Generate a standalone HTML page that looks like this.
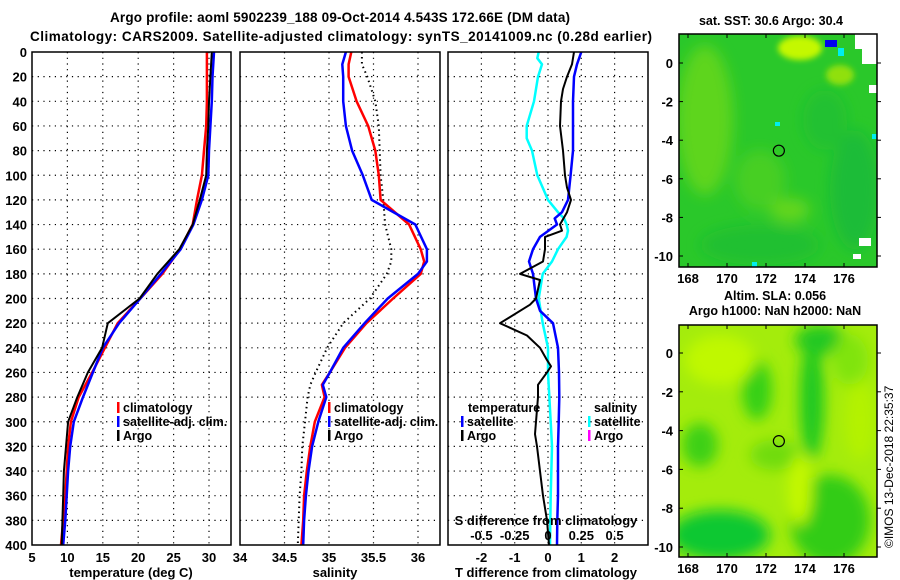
<!DOCTYPE html>
<html><head><meta charset="utf-8">
<style>
html,body{margin:0;padding:0;background:#fff;}
svg{display:block;font-family:"Liberation Sans",sans-serif;font-weight:bold;}
</style></head>
<body>
<svg id="fig" width="900" height="580" viewBox="0 0 900 580" xmlns="http://www.w3.org/2000/svg">
<defs>
<filter id="blur1" x="-20%" y="-20%" width="140%" height="140%"><feGaussianBlur stdDeviation="7"/></filter>
<filter id="blur2" x="-20%" y="-20%" width="140%" height="140%"><feGaussianBlur stdDeviation="3"/></filter>
<clipPath id="clipM1"><rect x="679" y="34" width="198" height="233"/></clipPath>
<clipPath id="clipM2"><rect x="679" y="325" width="198" height="232"/></clipPath>
</defs>
<text x="340" y="22" font-size="13.5" text-anchor="middle" textLength="460">Argo profile: aoml 5902239_188 09-Oct-2014 4.543S 172.66E (DM data)</text>
<text x="341" y="41" font-size="13.5" text-anchor="middle" textLength="622">Climatology: CARS2009. Satellite-adjusted climatology: synTS_20141009.nc (0.28d earlier)</text>
<g id="panels"></g>
<g id="maps"></g>
<text transform="translate(893,548) rotate(-90)" font-size="12" font-weight="normal">©IMOS 13-Dec-2018 22:35:37</text>
</svg>
<script>
// depth levels (dbar)
const depthT = [0,20,40,60,80,100,120,140,160,180,200,220,240,260,280,300,320,340,360,380,400];
const tempClim = [29.7,29.7,29.7,29.6,29.3,29.0,28.3,27.7,25.9,23.4,20.3,17.1,15.3,13.5,11.6,10.5,10.1,9.9,9.7,9.4,9.1];
const tempSat  = [30.7,30.5,30.4,30.2,30.0,29.9,29.0,27.8,26.0,23.2,20.3,17.3,15.0,13.6,12.2,10.9,10.4,10.1,9.9,9.7,9.4];
const tempArgo = [30.4,30.2,30.0,29.9,29.7,29.6,28.7,27.7,25.8,22.7,20.2,15.7,14.9,12.9,11.4,10.1,9.8,9.5,9.4,9.3,9.2];

const depthS = [0,10,20,40,60,80,100,120,140,160,170,180,200,220,240,260,270,280,300,320,340,360,380,400];
const salClim = [35.25,35.22,35.22,35.31,35.44,35.52,35.56,35.58,35.90,36.03,36.07,36.03,35.72,35.42,35.18,35.01,34.92,34.95,34.84,34.79,34.75,34.72,34.71,34.69];
const salSat  = [35.19,35.15,35.16,35.16,35.19,35.26,35.38,35.48,35.97,36.10,36.10,36.00,35.66,35.40,35.16,35.01,34.93,34.97,34.88,34.81,34.77,34.74,34.72,34.71];
const salArgo = [35.37,35.37,35.43,35.52,35.56,35.57,35.58,35.61,35.63,35.70,35.70,35.65,35.46,35.16,34.98,34.85,34.79,34.76,34.73,34.70,34.69,34.67,34.66,34.65];

const depthD1 = [0,10,20,40,60,80,100,120,130,135,140,150,160,170,180,200,210,220,240,260,280,300,320,340,360,380,400];
const dTsat   = [1.0,0.87,0.78,0.75,0.75,0.75,0.68,0.6,0.42,0.2,0.27,-0.24,-0.45,-0.57,-0.45,-0.36,-0.24,0.15,0.3,0.33,0.34,0.32,0.30,0.30,0.30,0.28,0.27];
const depthD2 = [0,10,20,30,40,60,80,100,110,120,130,140,145,150,160,170,180,185,200,205,220,230,240,250,255,260,270,280,290,310,320,340,360,380,400];
const dTargo  = [0.78,0.72,0.57,0.45,0.39,0.36,0.45,0.51,0.57,0.69,0.57,0.36,0.42,-0.09,-0.09,-0.15,-0.84,-0.24,-0.36,-0.54,-1.44,-0.63,-0.24,-0.03,0.09,-0.03,-0.3,-0.3,-0.33,-0.39,-0.33,-0.24,-0.15,-0.03,0.03];
const depthD3 = [0,5,10,20,40,60,70,80,100,110,120,130,135,140,145,150,160,170,180,200,220,240,260,300,320,360,400];
const dSsat   = [-0.07,-0.08,-0.045,-0.075,-0.105,-0.16,-0.16,-0.12,-0.08,-0.04,0,0.075,0.12,0.14,0.15,0.14,0.075,0.03,-0.04,-0.07,-0.04,0,0,0.02,0.03,0.02,0.015];

const depthTicks = [0,20,40,60,80,100,120,140,160,180,200,220,240,260,280,300,320,340,360,380,400];
const tTicks = [5,10,15,20,25,30];
const sTicks = [34,34.5,35,35.5,36];
const dTTicks = [-2,-1,0,1,2];
const dSTicks = [-0.5,-0.25,0,0.25,0.5];
const lonTicks = [168,170,172,174,176];
const latTicks = [0,-2,-4,-6,-8,-10];

const NS = 'http://www.w3.org/2000/svg';
const yTop = 52, yBot = 545;
const yD = d => yTop + (d/400)*(yBot-yTop);
const xT = v => 32 + (v-5)*7.08;
const xS = v => 240 + (v-34)*89;
const xDT = v => 548 + v*33.3;
const xDS = v => 548 + v*133.2;
const mx = lon => 688 + (lon-168)*19.5;
const my1 = lat => 63 - lat*19.3;
const my2 = lat => 353 - lat*19.4;

function mk(tag, attrs, parent){
  const e = document.createElementNS(NS, tag);
  for (const k in attrs) e.setAttribute(k, attrs[k]);
  parent.appendChild(e);
  return e;
}
const P = document.getElementById('panels');

function panel(x0, x1, name){
  const g = mk('g', {}, P);
  
  
  return g;
}
function gridH(g, x0, x1){
  depthTicks.forEach(d => {
    if (d===0||d===400) return;
    const l = mk('line', {x1:x0, x2:x1, y1:yD(d), y2:yD(d), stroke:'#000', 'stroke-width':1.2, 'stroke-dasharray':'1.2,4.5'}, g);
    
    
  });
}
function gridV(g, xs){
  xs.forEach(x => {
    const l = mk('line', {x1:x, x2:x, y1:yTop, y2:yBot, stroke:'#000', 'stroke-width':1.2, 'stroke-dasharray':'1.2,4.5'}, g);
    
    
  });
}
function frame(g, x0, x1){
  const r = mk('rect', {x:x0, y:yTop, width:x1-x0, height:yBot-yTop, fill:'none', stroke:'#000', 'stroke-width':1.5}, g);
  
  
}
function line(g, xs, ds, fx, color, w, name, dash){
  const pts = xs.map((v,i) => fx(v).toFixed(1)+','+yD(ds[i]).toFixed(1)).join(' ');
  const a = {points:pts, fill:'none', stroke:color, 'stroke-width':w, 'stroke-linejoin':'round'};
  if (dash) a['stroke-dasharray'] = dash;
  const p = mk('polyline', a, g);
  
  
}
function txt(g, x, y, s, size, anchor, name, fill){
  const t = mk('text', {x:x, y:y, 'font-size':size, 'text-anchor':anchor||'start', fill:fill||'#000'}, g);
  t.textContent = s;
  
  
  return t;
}
function legend(g, x, y, color, label){
  const r = mk('rect', {x:x, y:y-10, width:2.5, height:11, fill:color}, g);
  
  
  txt(g, x+6, y, label, 12.5, 'start', 'legend-entry');
}

// Panel 1: temperature
const g1 = panel(32, 231, 'temperature-panel');
gridH(g1, 32, 231); gridV(g1, tTicks.slice(1).map(xT));
line(g1, tempClim, depthT, xT, '#ff0000', 2.5, 'temperature-climatology-line');
line(g1, tempSat, depthT, xT, '#0000ff', 2.5, 'temperature-satellite-line');
line(g1, tempArgo, depthT, xT, '#000', 2, 'temperature-argo-line');
frame(g1, 32, 231);
depthTicks.forEach(d => txt(g1, 27, yD(d)+5, String(d), 13, 'end', 'depth-tick-label'));
tTicks.forEach(v => txt(g1, xT(v), 562, String(v), 13, 'middle', 'temperature-tick-label'));
txt(g1, 131, 577, 'temperature (deg C)', 13, 'middle', 'temperature-axis-title');
legend(g1, 117, 412, '#ff0000', 'climatology');
legend(g1, 117, 426, '#0000ff', 'satellite-adj. clim.');
legend(g1, 117, 440, '#000', 'Argo');

// Panel 2: salinity
const g2 = panel(240, 440, 'salinity-panel');
gridH(g2, 240, 440); gridV(g2, sTicks.slice(1).map(xS));
line(g2, salArgo, depthS, xS, '#000', 2, 'salinity-argo-line', '1.5,3.5');
line(g2, salClim, depthS, xS, '#ff0000', 2.5, 'salinity-climatology-line');
line(g2, salSat, depthS, xS, '#0000ff', 2.5, 'salinity-satellite-line');
frame(g2, 240, 440);
sTicks.forEach(v => txt(g2, xS(v), 562, String(v), 13, 'middle', 'salinity-tick-label'));
txt(g2, 335, 577, 'salinity', 13, 'middle', 'salinity-axis-title');
legend(g2, 328, 412, '#ff0000', 'climatology');
legend(g2, 328, 426, '#0000ff', 'satellite-adj. clim.');
legend(g2, 328, 440, '#000', 'Argo');

// Panel 3: differences
const g3 = panel(448, 648, 'difference-panel');
gridH(g3, 448, 648); gridV(g3, dTTicks.map(xDT));
line(g3, dSsat, depthD3, xDS, '#00ffff', 2.5, 'salinity-difference-satellite-line');
line(g3, dTsat, depthD1, xDT, '#0000ff', 2.5, 'temperature-difference-satellite-line');
line(g3, dTargo, depthD2, xDT, '#000', 2, 'temperature-difference-argo-line');
frame(g3, 448, 648);
dTTicks.forEach(v => txt(g3, xDT(v), 562, String(v), 13, 'middle', 'temperature-difference-tick-label'));
txt(g3, 546, 577, 'T difference from climatology', 13, 'middle', 'temperature-difference-axis-title');
dSTicks.forEach(v => txt(g3, xDS(v), 540, String(v), 13, 'middle', 'salinity-difference-tick-label'));
txt(g3, 546, 525, 'S difference from climatology', 13, 'middle', 'salinity-difference-axis-title');
txt(g3, 468, 412, 'temperature', 12.5, 'start', 'temperature-legend-heading');
legend(g3, 461, 426, '#0000ff', 'satellite');
legend(g3, 461, 440, '#000', 'Argo');
txt(g3, 594, 412, 'salinity', 12.5, 'start', 'salinity-legend-heading');
legend(g3, 588, 426, '#00ffff', 'satellite');
legend(g3, 588, 440, '#ff00ff', 'Argo');

// Maps
const M = document.getElementById('maps');
function mapAxes(g, y0, y1, myf, labY){
  const r = mk('rect', {x:679, y:y0, width:198, height:y1-y0, fill:'none', stroke:'#000', 'stroke-width':1.5}, g);
  
  
  lonTicks.forEach(v => {
    mk('line', {x1:mx(v), x2:mx(v), y1:y0, y2:y0+4, stroke:'#000'}, g);
    mk('line', {x1:mx(v), x2:mx(v), y1:y1, y2:y1-4, stroke:'#000'}, g);
    txt(g, mx(v), labY, String(v), 13, 'middle', 'longitude-tick-label');
  });
  latTicks.forEach(v => {
    mk('line', {x1:679, x2:683, y1:myf(v), y2:myf(v), stroke:'#000'}, g);
    mk('line', {x1:877, x2:881, y1:myf(v), y2:myf(v), stroke:'#000'}, g);
    txt(g, 673, myf(v)+5, String(v), 13, 'end', 'latitude-tick-label');
  });
  const c = mk('circle', {cx:mx(172.66), cy:myf(-4.543), r:5.5, fill:'none', stroke:'#000', 'stroke-width':1.2}, g);
  
  
}

// map 1: SST
const m1 = mk('g', {}, M);


txt(m1, 771, 25, 'sat. SST: 30.6 Argo: 30.4', 12.5, 'middle', 'sst-map-title');
const m1i = mk('g', {'clip-path':'url(#clipM1)'}, m1);
m1i.innerHTML = `
<rect x="679" y="34" width="198" height="233" fill="#2ac82a"/>
<g filter="url(#blur1)">
<ellipse cx="705" cy="120" rx="28" ry="75" fill="#6ad81c" opacity="0.8"/>
<ellipse cx="760" cy="180" rx="25" ry="30" fill="#5cd41c" opacity="0.6"/>
<ellipse cx="855" cy="190" rx="25" ry="60" fill="#10b440" opacity="0.6"/>
<ellipse cx="760" cy="245" rx="60" ry="20" fill="#18b838" opacity="0.5"/>
<ellipse cx="825" cy="120" rx="22" ry="30" fill="#18b83a" opacity="0.45"/>
<ellipse cx="790" cy="210" rx="20" ry="12" fill="#8ae018" opacity="0.6"/>
</g>
<g filter="url(#blur2)">
<ellipse cx="800" cy="48" rx="22" ry="12" fill="#c4f800"/>
<ellipse cx="840" cy="75" rx="14" ry="10" fill="#90e010"/>
</g>
<rect x="825" y="40" width="12" height="7" fill="#0000ee"/>
<rect x="838" y="48" width="6" height="8" fill="#00eeee"/>
<rect x="855" y="34" width="22" height="15" fill="#fff"/>
<rect x="862" y="49" width="15" height="15" fill="#fff"/>
<rect x="869" y="85" width="8" height="8" fill="#fff"/>
<rect x="859" y="238" width="12" height="8" fill="#fff"/>
<rect x="853" y="254" width="8" height="5" fill="#fff"/>
<rect x="872" y="134" width="5" height="5" fill="#00eeee"/>
<rect x="775" y="122" width="5" height="4" fill="#00eeee"/>
<rect x="752" y="262" width="5" height="5" fill="#00eeee"/>`;
mapAxes(m1, 34, 267, my1, 283);

// map 2: SLA
const m2 = mk('g', {}, M);


txt(m2, 775, 300, 'Altim. SLA: 0.056', 12.5, 'middle', 'sla-map-title');
txt(m2, 775, 315, 'Argo h1000: NaN h2000: NaN', 12.5, 'middle', 'sla-map-subtitle');
const m2i = mk('g', {'clip-path':'url(#clipM2)'}, m2);
m2i.innerHTML = `
<rect x="679" y="325" width="198" height="232" fill="#a4ec0c"/>
<g filter="url(#blur1)">
<ellipse cx="757" cy="390" rx="15" ry="30" fill="#34d014"/>
<ellipse cx="812" cy="400" rx="12" ry="60" fill="#1cc820"/>
<ellipse cx="820" cy="340" rx="25" ry="15" fill="#20c820"/>
<ellipse cx="700" cy="445" rx="18" ry="22" fill="#3cd014"/>
<ellipse cx="775" cy="455" rx="25" ry="15" fill="#70dc10"/>
<ellipse cx="720" cy="535" rx="50" ry="25" fill="#10c830"/>
<ellipse cx="830" cy="520" rx="40" ry="45" fill="#30cc18"/>
<ellipse cx="800" cy="490" rx="12" ry="35" fill="#c4f800"/>
<ellipse cx="720" cy="360" rx="35" ry="25" fill="#c0f800"/>
<ellipse cx="860" cy="420" rx="15" ry="40" fill="#b4f200"/>
<ellipse cx="850" cy="360" rx="18" ry="25" fill="#80e40c"/>
</g>`;
mapAxes(m2, 325, 557, my2, 573);
</script>
</body></html>
